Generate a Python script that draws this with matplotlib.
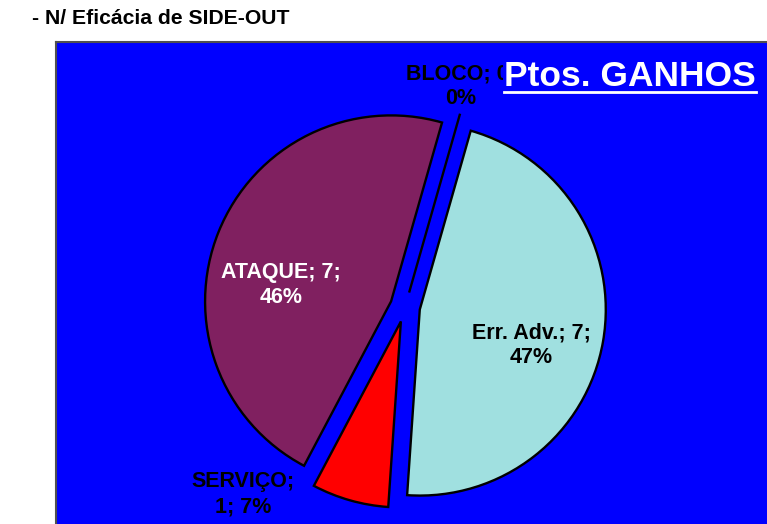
import matplotlib
matplotlib.use("Agg")
import matplotlib.pyplot as plt

# Pontos ganhos no side-out (ordem no sentido horário a partir do topo)
nomes = ["Err. Adv.", "SERVIÇO", "ATAQUE", "BLOCO"]
valores = [7, 1, 7, 0]
pcts = [47, 7, 46, 0]          # percentagens como aparecem nos rótulos
cores = ["#A0E0E0", "#FF0000", "#802060", "#FFFFFF"]
cor_rotulo = ["black", "black", "white", "black"]

rotulos = [f"{n}; {v};\n{p}%" for n, v, p in zip(nomes, valores, pcts)]
rotulos[1] = f"{nomes[1]};\n{valores[1]}; {pcts[1]}%"

plt.rcParams['font.family'] = ['Liberation Sans', 'DejaVu Sans']

W, H = 767, 524
fig = plt.figure(figsize=(W / 100, H / 100), dpi=100)

fig.text(32 / W, 1 - 19 / H, "- N/ Eficácia de SIDE-OUT",
         fontsize=15.2, fontweight="bold", va="center", ha="left")

# eixos em "pixels": x = coluna, y = altura a partir de baixo
left, top = 56, 42
ax = fig.add_axes([left / W, -30 / H, (W - left + 40) / W, (H - top + 30) / H])
ax.set_facecolor("#0000FF")
for s in ax.spines.values():
    s.set_color("#505050")
    s.set_linewidth(1.5)

# explode aqui é deslocamento absoluto (mesma unidade do raio)
ax.pie(valores, colors=cores, startangle=90 - 15.9, counterclock=False,
       explode=[15] * len(valores), radius=186, center=(405, H - 307),
       frame=True, wedgeprops=dict(edgecolor="black", linewidth=1.7))
ax.set_xlim(left, W + 40)
ax.set_ylim(-30, H - top)
ax.set_aspect("auto")
ax.set_xticks([])
ax.set_yticks([])

# posições dos rótulos (coluna, linha)
pos = [(531, 345), (243, 494), (281, 285), (461, 86)]
for txt, (px, py), c in zip(rotulos, pos, cor_rotulo):
    ax.text(px, H - py, txt, ha="center", va="center", fontsize=15.5,
            fontweight="bold", color=c, linespacing=1.25, zorder=5)

ax.text(630, H - 76, "Ptos. GANHOS", ha="center", va="center", fontsize=25.5,
        fontweight="bold", color="white", zorder=6,
        bbox=dict(facecolor="#0000FF", edgecolor="none", pad=1))
ax.plot([504, 756], [H - 92, H - 92], color="white", linewidth=2, zorder=7)

fig.savefig("out.png", dpi=100)
